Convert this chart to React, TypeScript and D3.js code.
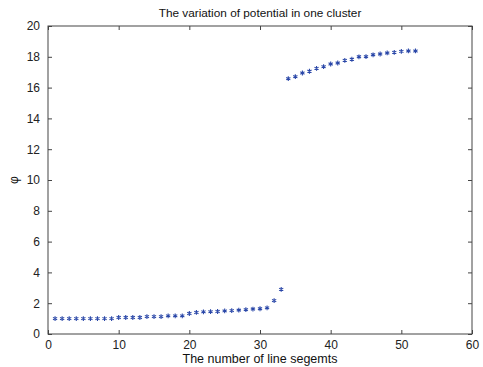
import { useEffect, useRef } from 'react';
import * as d3 from 'd3';

// segment index and potential value
const segments = [
  1, 2, 3, 4, 5, 6, 7, 8, 9, 10, 11, 12, 13, 14, 15, 16, 17, 18, 19, 20,
  21, 22, 23, 24, 25, 26, 27, 28, 29, 30, 31, 32, 33,
  34, 35, 36, 37, 38, 39, 40, 41, 42, 43, 44, 45, 46, 47, 48, 49, 50, 51, 52,
];
const potential = [
  1.0, 1.0, 1.0, 1.0, 1.0, 1.0, 1.0, 1.0, 1.0, 1.07, 1.07, 1.07, 1.07, 1.13, 1.13, 1.13, 1.18, 1.18, 1.18, 1.33,
  1.4, 1.44, 1.45, 1.46, 1.5, 1.52, 1.55, 1.58, 1.62, 1.64, 1.7, 2.17, 2.9,
  16.58, 16.71, 16.95, 17.06, 17.25, 17.36, 17.53, 17.6, 17.77, 17.84, 18.0, 18.01, 18.13, 18.18, 18.25, 18.29, 18.35, 18.38, 18.38,
];
const xTicks = [0, 10, 20, 30, 40, 50, 60];
const yTicks = [0, 2, 4, 6, 8, 10, 12, 14, 16, 18, 20];

export default function App() {
  const svgRef = useRef<SVGSVGElement>(null);

  useEffect(() => {
    if (!svgRef.current) return;
    const W = 483;
    const H = 367;
    const margin = { top: 26, right: 11, bottom: 33, left: 48 };
    const width = W - margin.left - margin.right;
    const height = H - margin.top - margin.bottom;

    const root = d3.select(svgRef.current);
    root.selectAll('*').remove();
    root.attr('width', W).attr('height', H);

    root.append('rect').attr('width', W).attr('height', H).attr('fill', '#fff');

    const svg = root.append('g').attr('transform', `translate(${margin.left},${margin.top})`);

    const x = d3.scaleLinear().domain([0, 60]).range([0, width]);
    const y = d3.scaleLinear().domain([0, 20]).range([height, 0]);

    const font = 'Arial, "Liberation Sans", sans-serif';
    const tickLen = 4;

    // box
    svg
      .append('rect')
      .attr('width', width)
      .attr('height', height)
      .attr('fill', 'none')
      .attr('stroke', '#444')
      .attr('stroke-width', 1);

    // bottom axis
    const bottom = svg
      .append('g')
      .attr('transform', `translate(0,${height})`)
      .call(d3.axisBottom(x).tickValues(xTicks).tickSize(-tickLen).tickPadding(8));
    // top axis ticks
    const top = svg
      .append('g')
      .call(d3.axisTop(x).tickValues(xTicks).tickSize(-tickLen).tickFormat(() => ''));
    // left axis
    const left = svg
      .append('g')
      .call(d3.axisLeft(y).tickValues(yTicks).tickSize(-tickLen).tickPadding(8));
    // right axis ticks
    const right = svg
      .append('g')
      .attr('transform', `translate(${width},0)`)
      .call(d3.axisRight(y).tickValues(yTicks).tickSize(-tickLen).tickFormat(() => ''));

    [bottom, top, left, right].forEach((g) => {
      g.select('.domain').remove();
      g.selectAll('line').attr('stroke', '#444');
      g.selectAll('text')
        .style('font-family', font)
        .style('font-size', '12px')
        .attr('fill', '#222');
    });
    bottom.selectAll('text').attr('dy', '0.55em');

    // markers
    const star = d3.symbol().type(d3.symbolAsterisk).size(16);
    svg
      .selectAll('.pt')
      .data(segments)
      .enter()
      .append('path')
      .attr('class', 'pt')
      .attr('d', star)
      .attr('transform', (d, i) => `translate(${x(d)},${y(potential[i])})`)
      .attr('fill', 'none')
      .attr('stroke', '#2a47a8')
      .attr('stroke-width', 1.1);

    // title
    root
      .append('text')
      .attr('x', margin.left + width / 2)
      .attr('y', 17)
      .attr('text-anchor', 'middle')
      .style('font-family', font)
      .style('font-size', '11.8px')
      .attr('fill', '#111')
      .text('The variation of potential in one cluster');

    // x label
    root
      .append('text')
      .attr('x', margin.left + width / 2)
      .attr('y', 363)
      .attr('text-anchor', 'middle')
      .style('font-family', font)
      .style('font-size', '12.5px')
      .attr('fill', '#111')
      .text('The number of line segemts');

    // y label
    root
      .append('text')
      .attr('transform', `translate(18,${margin.top + height / 2}) rotate(-90)`)
      .attr('text-anchor', 'middle')
      .style('font-family', font)
      .style('font-size', '12px')
      .attr('fill', '#111')
      .text('φ');
  }, []);

  return (
    <div style={{ position: 'absolute', left: 0, top: 0 }}>
      <svg ref={svgRef} style={{ display: 'block' }} />
    </div>
  );
}
